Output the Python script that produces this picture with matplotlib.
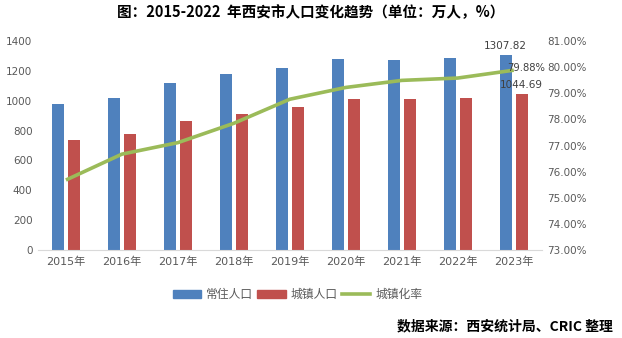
import numpy as np
import matplotlib
matplotlib.use('Agg')
import matplotlib.pyplot as plt
from matplotlib.patches import Patch
from matplotlib.lines import Line2D

plt.rcParams['font.family'] = ['Noto Sans CJK SC', 'DejaVu Sans']
num_font = ['DejaVu Sans', 'Noto Sans CJK SC']

years = ['2015年', '2016年', '2017年', '2018年', '2019年', '2020年', '2021年', '2022年', '2023年']
resident = [980, 1020, 1120, 1180, 1220, 1280, 1273, 1287, 1307.82]
urban = [740, 780, 867, 913, 960, 1013, 1013, 1020, 1044.69]
rate = [75.68, 76.67, 77.11, 77.85, 78.77, 79.22, 79.49, 79.58, 79.88]

blue = '#4F81BD'
red = '#C0504D'
green = '#9BBB59'
tick_col = '#595959'

fig = plt.figure(figsize=(6.22, 3.38), dpi=100)
ax1 = fig.add_axes([0.061, 0.260, 0.810, 0.619])
ax2 = ax1.twinx()

x = np.arange(len(years))
w = 0.214
ax1.bar(x - 0.143, resident, width=w, color=blue, zorder=2)
ax1.bar(x + 0.143, urban, width=w, color=red, zorder=2)
ax2.plot(x, rate, color=green, lw=2.6, zorder=3, solid_capstyle='butt')

ax1.set_xlim(-0.5, len(years) - 0.5)
ax1.set_ylim(0, 1400)
ax1.set_yticks(range(0, 1401, 200))
ax2.set_ylim(73, 81)
ax2.set_yticks(range(73, 82))
ax2.set_yticklabels([f'{v:.2f}%' for v in range(73, 82)])

ax1.set_xticks(x)
ax1.set_xticklabels(years)

for ax in (ax1, ax2):
    for s in ('top', 'left', 'right'):
        ax.spines[s].set_visible(False)
    ax.spines['bottom'].set_color('#D9D9D9')
    ax.tick_params(axis='y', length=0, labelsize=7.5, labelcolor=tick_col, pad=4)
    for lab in ax.get_yticklabels():
        lab.set_family(num_font)
ax1.tick_params(axis='x', length=0, labelsize=8, labelcolor=tick_col, pad=5)
for lab in ax1.get_xticklabels():
    lab.set_family(num_font)
ax2.spines['bottom'].set_visible(False)
ax2.set_zorder(ax1.get_zorder() + 1)
ax2.patch.set_visible(False)

# data labels on last year
ax1.text(x[-1] - 0.143, resident[-1] + 25, f'{resident[-1]:.2f}', ha='center', va='bottom',
         fontsize=7.5, color='#404040', family=num_font)
ax1.text(x[-1] + 0.143, urban[-1] + 25, f'{urban[-1]:.2f}', ha='center', va='bottom',
         fontsize=7.5, color='#404040', family=num_font)
ax2.text(x[-1] - 0.12, rate[-1] + 0.1, f'{rate[-1]:.2f}%', ha='left', va='center',
         fontsize=7.2, color='#404040', family=num_font)

handles = [Patch(color=blue), Patch(color=red), Line2D([], [], color=green, lw=2.6)]
fig.legend(handles, ['常住人口', '城镇人口', '城镇化率'], loc='center', ncol=3,
           bbox_to_anchor=(0.478, 0.128), frameon=False, fontsize=8.5,
           handlelength=2.4, handleheight=0.65, columnspacing=0.4, handletextpad=0.4,
           labelcolor=tick_col)

fig.text(0.5, 0.965, '图：2015-2022  年西安市人口变化趋势（单位：万人，%）', ha='center', va='center',
         fontsize=10.5, fontweight='bold')
fig.text(0.985, 0.035, '数据来源：西安统计局、CRIC 整理', ha='right', va='center',
         fontsize=10, fontweight='bold')

fig.savefig('out.png', dpi=100)
